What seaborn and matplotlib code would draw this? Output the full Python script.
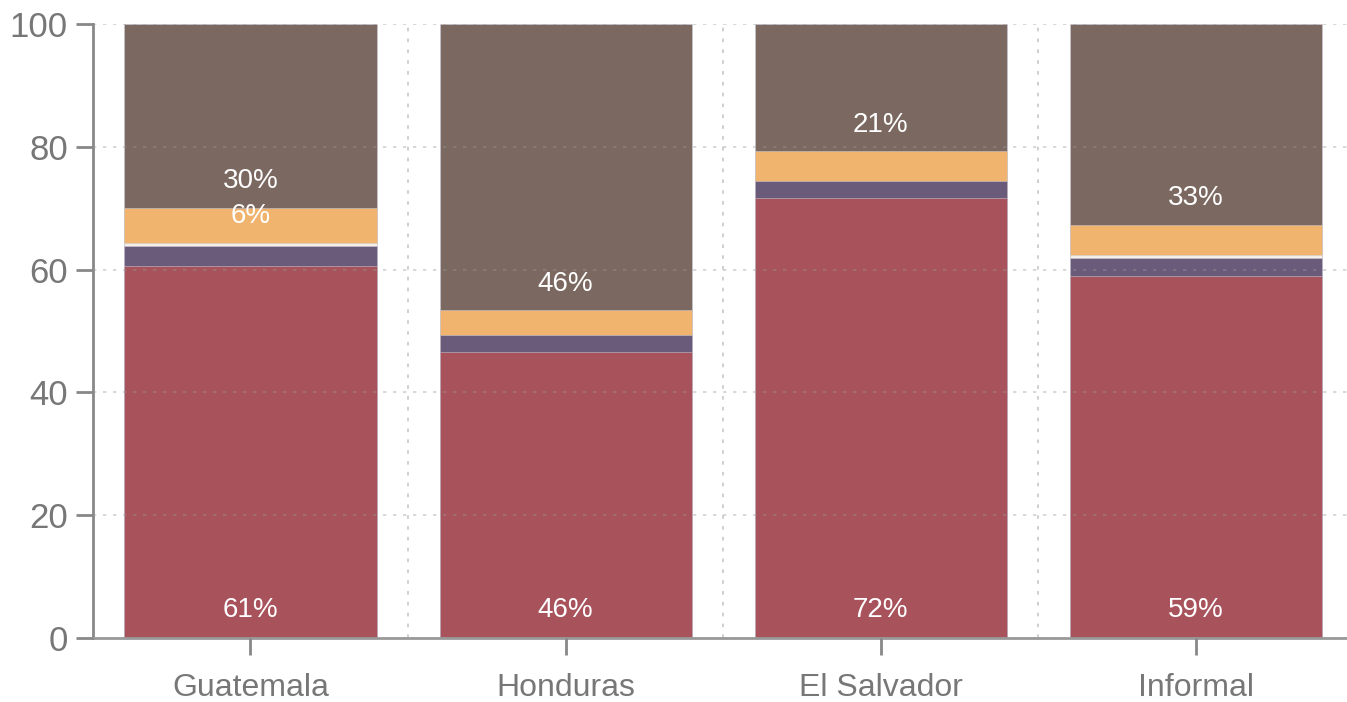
import numpy as np
import pandas as pd
import seaborn as sns
import matplotlib.pyplot as plt
from matplotlib.ticker import FixedLocator

countries = ["Guatemala", "Honduras", "El Salvador", "Informal"]
red_vals = [60.5, 46.5, 71.7, 59.0]
purple_vals = [3.3, 2.9, 2.7, 2.9]
white_vals = [0.5, 0.0, 0.0, 0.4]
orange_vals = [5.8, 4.0, 4.9, 5.0]
brown_vals = [29.9, 46.6, 20.7, 32.7]

red_lab = ["61%", "46%", "72%", "59%"]
orange_lab = ["6%", "", "", ""]
brown_lab = ["30%", "46%", "21%", "33%"]

segs = [red_vals, purple_vals, white_vals, orange_vals, brown_vals]
colors = ["#a8525c", "#6b5b7b", "#f4efe6", "#f0b46e", "#7b6860"]

df = pd.DataFrame({"country": countries})
cum = np.cumsum(np.array(segs), axis=0)

sns.set_style("white")
plt.rcParams["font.family"] = ["Liberation Sans", "DejaVu Sans"]

fig = plt.figure(figsize=(13.47, 7.02), dpi=100)
ax = fig.add_axes([0.069, 0.091, 0.931, 0.875])

# draw stacked bars from the top level down
for i in range(len(segs) - 1, -1, -1):
    d = df.copy()
    d["top"] = cum[i]
    d = d[np.array(segs[i]) > 0]
    sns.barplot(data=d, x="country", y="top", order=countries, color=colors[i], width=0.8,
                saturation=1, edgecolor=(0.8, 0.8, 0.85, 0.6), linewidth=0.6, ax=ax)

bottoms_orange = cum[2]
bottoms_brown = cum[3]
for j in range(len(countries)):
    ax.text(j, 4.5, red_lab[j], ha="center", va="center", color="white", fontsize=20)
    if orange_lab[j]:
        ax.text(j, bottoms_orange[j] + 4.4, orange_lab[j], ha="center", va="center",
                color="white", fontsize=20)
    ax.text(j, bottoms_brown[j] + 4.3, brown_lab[j], ha="center", va="center",
            color="white", fontsize=20)

ax.set_ylim(0, 100)
ax.set_xlim(-0.5, 3.48)
ax.set_yticks([0, 20, 40, 60, 80, 100])
ax.xaxis.set_minor_locator(FixedLocator([0.5, 1.5, 2.5]))
ax.set_axisbelow(False)
ax.grid(axis="y", which="major", color="#999999", alpha=0.45, linestyle=(0, (2, 4)), linewidth=1.2)
ax.grid(axis="x", which="minor", color="#999999", alpha=0.5, linestyle=(0, (2, 4)), linewidth=1.3)
ax.grid(axis="x", which="major", visible=False)

ax.set_xlabel("")
ax.set_ylabel("")
for s in ["top", "right"]:
    ax.spines[s].set_visible(False)
ax.spines["left"].set_color("#888888")
ax.spines["left"].set_linewidth(2)
ax.spines["bottom"].set_color("#999999")
ax.spines["bottom"].set_linewidth(2)
ax.spines["bottom"].set_linestyle((0, (1.5, 1)))

ax.tick_params(axis="y", which="major", length=12, width=2, color="#888888",
               labelcolor="#777777", labelsize=25, pad=6, left=True)
ax.tick_params(axis="x", which="major", length=12, width=2, color="#888888",
               labelcolor="#777777", labelsize=23, pad=13, bottom=True)
ax.tick_params(axis="x", which="minor", length=0)

fig.savefig("out.png", dpi=100)
